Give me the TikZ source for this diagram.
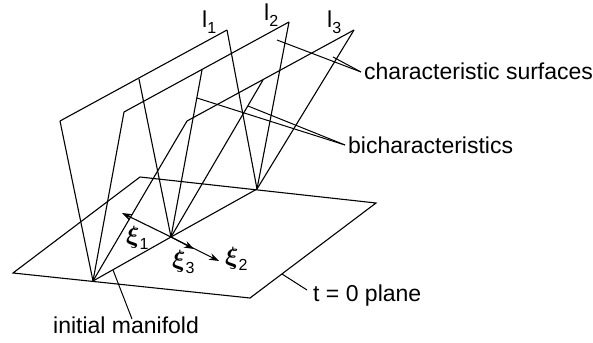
\documentclass[tikz,border=0pt]{standalone}
\usepackage{bm}
\usepackage{fontspec}
\setmainfont{Liberation Sans}
\usetikzlibrary{arrows.meta}
\newcommand{\lowidx}[1]{\raisebox{-6pt}{\fontsize{16}{16}\selectfont #1}}
\tikzset{
  edgeline/.style={line width=1.1pt, line join=miter},
  leaderline/.style={line width=1pt},
  arrowline/.style={line width=1.1pt, -{Stealth[length=10pt,width=7pt]}},
  caption/.style={anchor=base west, inner sep=0pt, font=\fontsize{23}{25}\selectfont},
  tag/.style={anchor=base west, inner sep=0pt, font=\fontsize{23}{25}\selectfont},
  greektag/.style={anchor=base west, inner sep=0pt, font=\fontsize{27}{29}\selectfont}
}

\begin{document}
\begin{tikzpicture}[x=1pt,y=-1pt]
  \useasboundingbox (0,0) rectangle (593,342);

  % Points on the initial manifold
  \coordinate (p1) at (93,281);
  \coordinate (p2) at (171,237);
  \coordinate (p3) at (257,189);

  % Plane
  \draw[edgeline] (13,273) -- (140,177) -- (376,203) -- (250,298) -- cycle;
  \draw[edgeline] (p1) -- (p2) -- (p3);

  % First surface
  \coordinate (a1) at (60,121);
  \coordinate (a2) at (139,79);
  \coordinate (a3) at (227,30);
  \draw[edgeline] (a1) -- (a3);
  \draw[edgeline] (p1) -- (a1);
  \draw[edgeline] (p2) -- (a2);
  \draw[edgeline] (p3) -- (a3);

  % Second surface
  \coordinate (b1) at (124,112);
  \coordinate (b2) at (202,70);
  \coordinate (b3) at (289,22);
  \draw[edgeline] (b1) -- (b3);
  \draw[edgeline] (p1) -- (b1);
  \draw[edgeline] (p2) -- (b2);
  \draw[edgeline] (p3) -- (b3);

  % Third surface
  \coordinate (c1) at (187,121);
  \coordinate (c2) at (263,80);
  \coordinate (c3) at (354,30);
  \draw[edgeline] (c1) -- (c3);
  \draw[edgeline] (p1) -- (c1);
  \draw[edgeline] (p2) -- (c2);
  \draw[edgeline] (p3) -- (c3);

  % Direction arrows
  \coordinate (t1) at (122,213);
  \coordinate (t2) at (219,261);
  \coordinate (t3) at (194,249);
  \draw[arrowline] (p2) -- (t1);
  \draw[arrowline] (p2) -- (t2);
  \draw[arrowline] (p2) -- (t3);

  % Labels
  \node[caption] (surfaces) at (364,80) {characteristic surfaces};
  \node[caption] (bichar) at (348,153) {bicharacteristics};
  \node[caption] (plane) at (313,301) {t = 0 plane};
  \node[caption] (manifold) at (53,333) {initial manifold};
  \node[tag] (l1) at (202,28) {l\lowidx{1}};
  \node[tag] (l2) at (264,21) {l\lowidx{2}};
  \node[tag] (l3) at (327,28) {l\lowidx{3}};
  \node[greektag] (xi1) at (126,243) {$\bm{\xi}$\lowidx{1}};
  \node[greektag] (xi3) at (172,267) {$\bm{\xi}$\lowidx{3}};
  \node[greektag] (xi2) at (225,264) {$\bm{\xi}$\lowidx{2}};

  % Leaders
  \coordinate (s1) at (277,40);
  \coordinate (s2) at (333,57);
  \coordinate (s0) at (361,72);
  \draw[leaderline] (s1) -- (s0);
  \draw[leaderline] (s2) -- (s0);
  \coordinate (h1) at (197,98);
  \coordinate (h2) at (248,106);
  \coordinate (h0) at (345,145);
  \draw[leaderline] (h1) -- (h0);
  \draw[leaderline] (h2) -- (h0);
  \coordinate (m1) at (113,270);
  \coordinate (m0) at (132,319);
  \draw[leaderline] (m1) -- (m0);
  \coordinate (z1) at (282,274);
  \coordinate (z0) at (307,290);
  \draw[leaderline] (z1) -- (z0);
\end{tikzpicture}
\end{document}
